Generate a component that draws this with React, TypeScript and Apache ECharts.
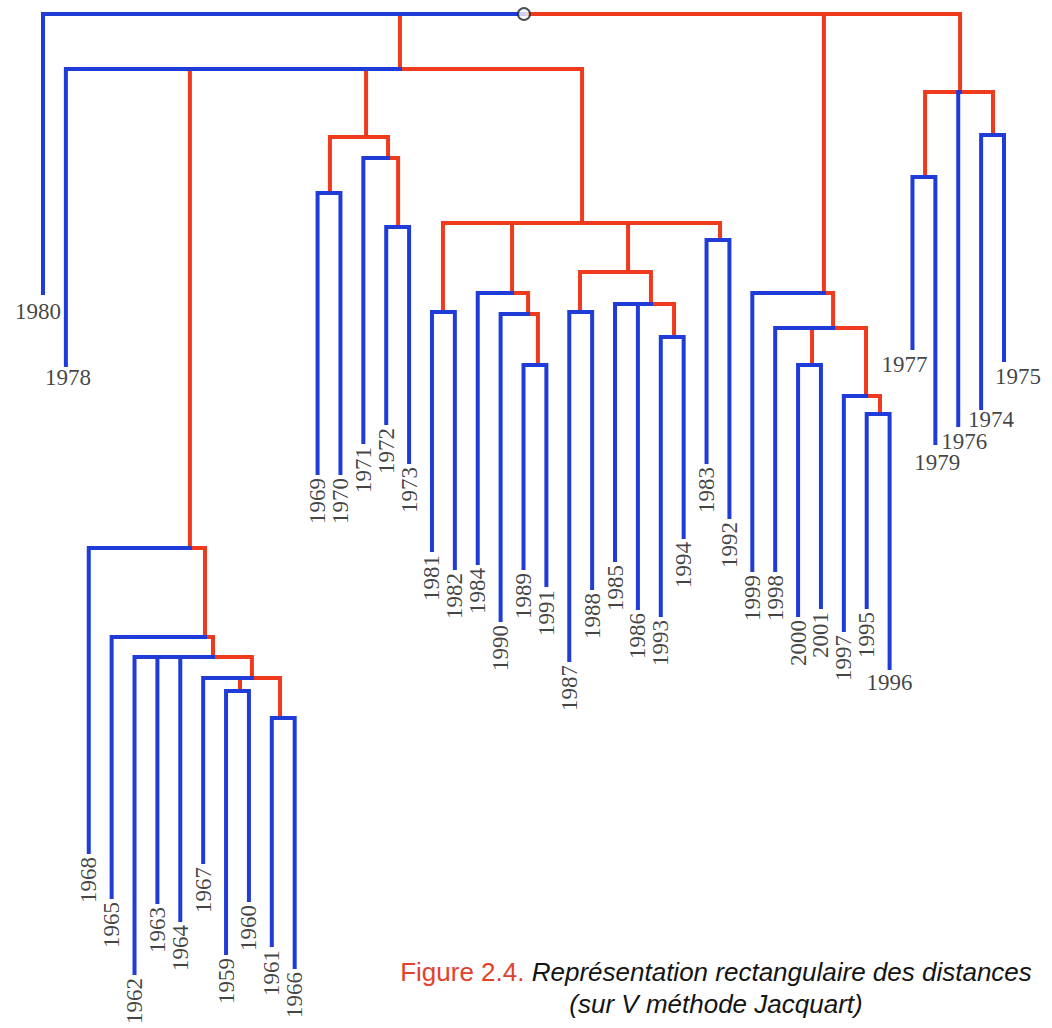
import React, { useEffect, useRef } from "react";
import * as echarts from "echarts";

// Leaves, in left-to-right order (x = position in this order)
const leafYears = ["1980","1978","1968","1965","1962","1963","1964","1967","1959","1960","1961","1966","1969","1970","1971","1972","1973","1981","1982","1984","1990","1989","1991","1987","1988","1985","1986","1993","1994","1983","1992","1999","1998","2000","2001","1997","1995","1996","1977","1979","1976","1974","1975"];
// Distance at which each leaf branch ends (0 = root level)
const leafDepth = [279,351,838,883,959,888,906,848,939,886,931,953,459,459,428,409,448,536,554,549,606,554,571,646,574,546,594,601,523,448,503,556,556,601,593,616,593,654,334,429,411,394,346];
const leafParent = ["root","N","A","B","C","C","C","D","E","E","F","F","P1","P1","P2","P3","P3","G","G","H","H2","H3","H3","I1","I1","I2","I2","I3","I3","J","J","K","L","L1","L1","L2","L3","L3","M1","M1","M","M2","M2"];

// Internal nodes of the tree
const nodeIds = ["root","N","A","B","C","D","E","F","P","P1","P2","P3","Q","G","H","H2","H3","I","I1","I2","I3","J","K","L","L1","L2","L3","M","M1","M2"];
const nodeParent = [null,"root","N","A","B","C","D","D","N","P","P","P2","N","Q","Q","H","H2","Q","I","I","I2","Q","root","K","L","L","L2","root","M","M"];
const nodeHeight = [0,55,534,623,643,664,677,704,123,179,144,213,209,298,279,300,351,258,298,290,323,226,279,314,351,382,400,78,163,121];
const nodeAnchor = [21.02,15.6,6.42,7.08,7.43,9.13,8.61,10.36,14.12,12.54,15.08,15.52,23.56,17.48,20.5,21.2,21.63,25.57,23.47,26.57,27.58,29.59,34.13,34.53,33.61,35.97,36.58,40.08,38.55,41.52];

// Leaves whose label is written horizontally, with a small nudge [dx, dy]
const horizontalLabels: Record<string, [number, number]> = {
  "1980": [-5, 2],
  "1978": [2, -4],
  "1977": [-8, 0],
  "1979": [2, 3],
  "1976": [6, 0],
  "1974": [10, -5],
  "1975": [14, 0],
  "1996": [0, -2],
};

const BLUE = "#1f3cd8";
const RED = "#f03a1e";
const LABEL_FONT = "Liberation Serif";

function buildOption() {
  const idx: Record<string, number> = {};
  nodeIds.forEach((id, i) => (idx[id] = i));

  const redEdges: any[] = [];
  const blueEdges: any[] = [];

  // internal -> internal edges (red)
  nodeIds.forEach((id, i) => {
    const p = nodeParent[i];
    if (p === null) return;
    const pi = idx[p];
    redEdges.push({
      coords: [
        [nodeAnchor[pi], nodeHeight[pi]],
        [nodeAnchor[i], nodeHeight[pi]],
        [nodeAnchor[i], nodeHeight[i]],
      ],
    });
  });
  // internal -> leaf edges (blue)
  leafYears.forEach((y, i) => {
    const pi = idx[leafParent[i]];
    blueEdges.push({
      coords: [
        [nodeAnchor[pi], nodeHeight[pi]],
        [i, nodeHeight[pi]],
        [i, leafDepth[i]],
      ],
    });
  });

  const vertLabels: any[] = [];
  const horLabels: any[] = [];
  leafYears.forEach((y, i) => {
    const nudge = horizontalLabels[y];
    if (nudge) {
      horLabels.push({
        value: [i, leafDepth[i]],
        name: y,
        label: { offset: nudge },
      });
    } else {
      vertLabels.push({ value: [i, leafDepth[i]], name: y });
    }
  });

  const rootI = idx["root"];

  return {
    animation: false,
    backgroundColor: "#ffffff",
    grid: { left: 43, right: 48, top: 14, bottom: 14 },
    xAxis: { type: "value", min: 0, max: 42, show: false },
    yAxis: { type: "value", min: 0, max: 1000, inverse: true, show: false },
    series: [
      {
        type: "lines",
        coordinateSystem: "cartesian2d",
        polyline: true,
        silent: true,
        z: 2,
        lineStyle: { color: RED, width: 4, opacity: 1, cap: "square", join: "miter" },
        data: redEdges,
      },
      {
        type: "lines",
        coordinateSystem: "cartesian2d",
        polyline: true,
        silent: true,
        z: 3,
        lineStyle: { color: BLUE, width: 4, opacity: 1, cap: "square", join: "miter" },
        data: blueEdges,
      },
      {
        type: "scatter",
        z: 5,
        symbol: "circle",
        symbolSize: 12,
        itemStyle: { color: "#f4f6ff", borderColor: "#222", borderWidth: 2 },
        data: [[nodeAnchor[rootI], nodeHeight[rootI]]],
      },
      {
        type: "scatter",
        symbolSize: 0,
        silent: true,
        z: 4,
        data: vertLabels,
        label: {
          show: true,
          formatter: (p: any) => p.name,
          position: "bottom",
          distance: 5,
          rotate: 90,
          align: "right",
          verticalAlign: "middle",
          fontFamily: LABEL_FONT,
          fontSize: 23,
          lineHeight: 18,
          color: "#111",
        },
      },
      {
        type: "scatter",
        symbolSize: 0,
        silent: true,
        z: 4,
        data: horLabels,
        label: {
          show: true,
          formatter: (p: any) => p.name,
          position: "bottom",
          distance: 8,
          align: "center",
          verticalAlign: "top",
          fontFamily: LABEL_FONT,
          fontSize: 23,
          lineHeight: 17,
          color: "#111",
        },
      },
    ],
    graphic: [
      {
        type: "text",
        x: 716,
        y: 972,
        style: {
          text: "{a|Figure 2.4.}{b| Représentation rectangulaire des distances}",
          align: "center",
          verticalAlign: "middle",
          rich: {
            a: { fill: "#e2412b", fontFamily: "Liberation Sans", fontSize: 26 },
            b: { fill: "#141414", fontFamily: "Liberation Sans", fontSize: 26, fontStyle: "italic" },
          },
        },
      },
      {
        type: "text",
        x: 716,
        y: 1004,
        style: {
          text: "(sur V méthode Jacquart)",
          align: "center",
          verticalAlign: "middle",
          fill: "#141414",
          font: 'italic 26px "Liberation Sans"',
        },
      },
    ],
  };
}

export default function App() {
  const ref = useRef<HTMLDivElement>(null);
  useEffect(() => {
    if (!ref.current) return;
    const chart = echarts.init(ref.current, null, { renderer: "svg" });
    chart.setOption(buildOption() as any);
    return () => chart.dispose();
  }, []);
  return (
    <div
      ref={ref}
      style={{ position: "fixed", left: 0, top: 0, width: 1052, height: 1028, background: "#fff" }}
    />
  );
}
